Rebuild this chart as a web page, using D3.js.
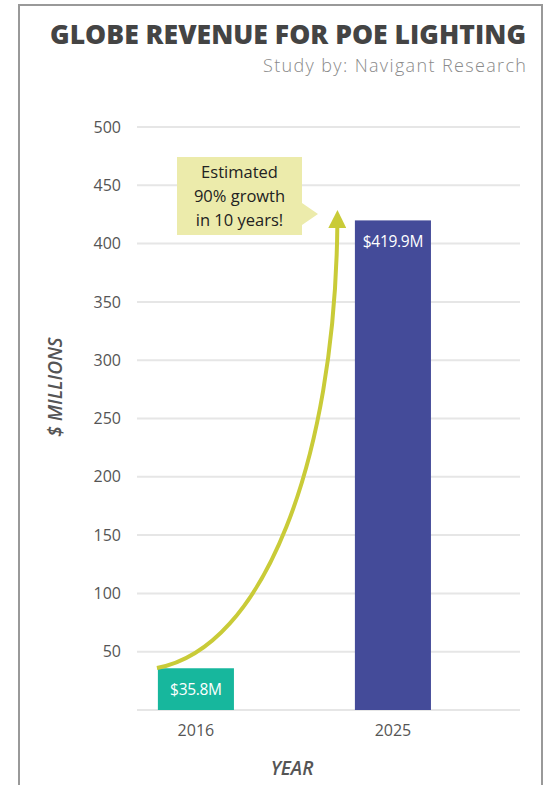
<!DOCTYPE html>
<html>
<head>
<meta charset="utf-8">
<script src="https://cdn.jsdelivr.net/npm/d3@7"></script>
<style>
  body { margin: 0; background: #fff; }
  svg { display: block; font-family: "Open Sans", sans-serif; }
</style>
</head>
<body>
<div id="chart"></div>
<script>

// data
var years = ["2016", "2025"];
var revenue = [35.8, 419.9];
var bar_labels = ["$35.8M", "$419.9M"];
var y_ticks = [50, 100, 150, 200, 250, 300, 350, 400, 450, 500];
var grid_values = [0, 50, 100, 150, 200, 250, 300, 350, 400, 450, 500];
var callout_lines = ["Estimated", "90% growth", "in 10 years!"];

// growth arrow as a cubic bezier in (year, $M) space: start, ctrl1, ctrl2, end
var arrow_years  = [2014.22, 2019.1, 2022.35, 2022.46];
var arrow_values = [36.0, 53, 215, 415];

var W = 544, H = 785;
var bar_colors = ["#17b79d", "#444b99"];
var arrow_col = "#c9cb38";
var grid_col = "#e6e6e6";
var text_col = "#555";

var plot = {left: 137, right: 520, top: 127, bottom: 710};

var svg = d3.select("#chart").append("svg")
    .attr("width", W)
    .attr("height", H);

// frame
svg.append("rect")
    .attr("x", 19).attr("y", 5)
    .attr("width", 523).attr("height", H + 20)
    .attr("fill", "none")
    .attr("stroke", "#999")
    .attr("stroke-width", 2);

// title + subtitle
svg.append("text")
    .attr("x", 526).attr("y", 44)
    .attr("text-anchor", "end")
    .attr("textLength", 476)
    .attr("lengthAdjust", "spacing")
    .style("font-size", "26.5px")
    .style("font-weight", 800)
    .style("fill", "#444")
    .text("GLOBE REVENUE FOR POE LIGHTING");

svg.append("text")
    .attr("x", 526).attr("y", 72)
    .attr("text-anchor", "end")
    .attr("textLength", 263)
    .attr("lengthAdjust", "spacing")
    .style("font-size", "18px")
    .style("font-weight", 300)
    .style("fill", "#8a8a8a")
    .text("Study by: Navigant Research");

// scales
var x = d3.scaleBand()
    .domain(years)
    .range([plot.left, plot.right])
    .paddingInner(0.614)
    .paddingOuter(0.279)
    .align(0.19);

var y = d3.scaleLinear()
    .domain([0, 500])
    .range([plot.bottom, plot.top]);

var x_year = d3.scaleLinear()
    .domain([+years[0], +years[1]])
    .range([x(years[0]) + x.bandwidth()/2, x(years[1]) + x.bandwidth()/2]);

// gridlines
svg.append("g")
  .selectAll("line")
  .data(grid_values)
  .enter()
  .append("line")
    .attr("x1", plot.left)
    .attr("x2", plot.right)
    .attr("y1", d => y(d))
    .attr("y2", d => y(d))
    .attr("stroke", grid_col)
    .attr("stroke-width", 2);

// y axis (labels only)
var y_axis = svg.append("g")
    .attr("transform", "translate(" + (plot.left - 16) + ",0)")
    .call(d3.axisLeft(y).tickValues(y_ticks).tickSize(0).tickPadding(0));
y_axis.select(".domain").remove();
y_axis.selectAll("text")
    .style("font-family", "'Open Sans', sans-serif")
    .style("font-size", "16px")
    .style("fill", text_col);

// x axis (labels only)
var x_axis = svg.append("g")
    .attr("transform", "translate(0," + (plot.bottom + 15) + ")")
    .call(d3.axisBottom(x).tickSize(0).tickPadding(0));
x_axis.select(".domain").remove();
x_axis.selectAll("text")
    .style("font-family", "'Open Sans', sans-serif")
    .style("font-size", "16px")
    .style("fill", text_col);

// axis titles
svg.append("text")
    .attr("x", 292).attr("y", 775)
    .attr("text-anchor", "middle")
    .style("font-size", "19px")
    .style("font-style", "italic")
    .style("font-weight", 600)
    .style("fill", text_col)
    .text("YEAR");

svg.append("text")
    .attr("transform", "translate(62,387) rotate(-90)")
    .attr("text-anchor", "middle")
    .style("font-size", "19px")
    .style("font-style", "italic")
    .style("font-weight", 600)
    .style("fill", text_col)
    .text("$ MILLIONS");

// bars
var bar_data = years.map((d, i) => ({year: d, value: revenue[i], label: bar_labels[i], col: bar_colors[i]}));

svg.append("g")
  .selectAll("rect")
  .data(bar_data)
  .enter()
  .append("rect")
    .attr("x", d => x(d.year))
    .attr("y", d => y(d.value))
    .attr("width", x.bandwidth())
    .attr("height", d => y(0) - y(d.value))
    .attr("fill", d => d.col);

// bar labels: small bar gets it in the middle, tall bar at the top
svg.append("g")
  .selectAll("text")
  .data(bar_data)
  .enter()
  .append("text")
    .attr("x", d => x(d.year) + x.bandwidth()/2)
    .attr("y", function(d){
      var h = y(0) - y(d.value);
      return (h < 60) ? (y(d.value) + h/2 + 6) : (y(d.value) + 27);
    })
    .attr("text-anchor", "middle")
    .style("font-size", "15.5px")
    .style("letter-spacing", "-0.3px")
    .style("fill", "white")
    .text(d => d.label);

// growth arrow
svg.append("defs").append("marker")
    .attr("id", "arrowhead")
    .attr("viewBox", "0 0 18 18")
    .attr("refX", 2)
    .attr("refY", 9)
    .attr("markerWidth", 18)
    .attr("markerHeight", 18)
    .attr("markerUnits", "userSpaceOnUse")
    .attr("orient", "auto")
  .append("path")
    .attr("d", "M0,0 L18,9 L0,18 Z")
    .attr("fill", arrow_col);

var ap = arrow_years.map((d, i) => [x_year(d), y(arrow_values[i])]);
var arrow_path = d3.path();
arrow_path.moveTo(ap[0][0], ap[0][1]);
arrow_path.bezierCurveTo(ap[1][0], ap[1][1], ap[2][0], ap[2][1], ap[3][0], ap[3][1]);

svg.append("path")
    .attr("d", arrow_path.toString())
    .attr("fill", "none")
    .attr("stroke", arrow_col)
    .attr("stroke-width", 4)
    .attr("marker-end", "url(#arrowhead)");

// callout box
var box = {x: 177, y: 157, w: 125, h: 78, tip_x: 318, tip_y: 214};
svg.append("path")
    .attr("d", "M" + box.x + "," + box.y +
               " H" + (box.x + box.w) +
               " V" + (box.tip_y - 11) +
               " L" + box.tip_x + "," + box.tip_y +
               " L" + (box.x + box.w) + "," + (box.tip_y + 11) +
               " V" + (box.y + box.h) +
               " H" + box.x + " Z")
    .attr("fill", "#ecebab");

svg.append("g")
  .selectAll("text")
  .data(callout_lines)
  .enter()
  .append("text")
    .attr("x", box.x + box.w/2)
    .attr("y", (d, i) => box.y + 21 + i*24)
    .attr("text-anchor", "middle")
    .style("font-size", "16.5px")
    .style("fill", "#222")
    .text(d => d);

</script>
</body>
</html>
